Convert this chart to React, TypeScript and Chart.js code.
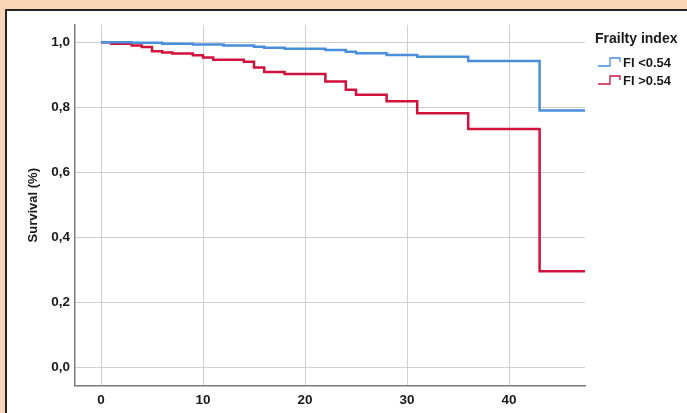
import React, { useEffect, useRef } from "react";
import { Chart, registerables } from "chart.js";

Chart.register(...registerables);

const seriesNames = ["FI <0.54", "FI >0.54"];
const legendTitle = "Frailty index";
const yAxisTitle = "Survival (%)";

const blueTimes = [0, 3, 6, 9, 12, 15, 16, 18, 22, 24, 25, 28, 31, 36, 43, 47.5];
const blueSurv = [1.0, 0.998, 0.995, 0.993, 0.99, 0.986, 0.983, 0.98, 0.976, 0.971, 0.966, 0.961, 0.955, 0.942, 0.79, 0.79];

const redTimes = [0, 1, 3, 4, 5, 6, 7, 9, 10, 11, 14, 15, 16, 18, 22, 24, 25, 28, 31, 36, 43, 47.5];
const redSurv = [1.0, 0.995, 0.99, 0.985, 0.972, 0.968, 0.965, 0.96, 0.953, 0.946, 0.94, 0.922, 0.908, 0.902, 0.879, 0.854, 0.838, 0.818, 0.781, 0.733, 0.295, 0.295];

const xTicks = [0, 10, 20, 30, 40];
const yTicks = [0, 0.2, 0.4, 0.6, 0.8, 1.0];

const BLUE = "#4a8fdc";
const RED = "#d0123c";
const FONT = "'Liberation Sans', Arial, sans-serif";

const legendPlugin = {
  id: "kmLegend",
  afterDraw(chart: any) {
    const ctx = chart.ctx;
    const ca = chart.chartArea;
    const x0 = ca.right + 10;
    ctx.save();
    ctx.fillStyle = "#1a1a1a";
    ctx.textBaseline = "middle";
    ctx.textAlign = "left";
    ctx.font = `bold 14px ${FONT}`;
    ctx.fillText(legendTitle, x0, 39);
    const colors = [BLUE, RED];
    seriesNames.forEach((name, i) => {
      const y = 63 + i * 18;
      ctx.strokeStyle = colors[i];
      ctx.lineWidth = 1.3;
      ctx.beginPath();
      ctx.moveTo(x0 + 3, y + 3);
      ctx.lineTo(x0 + 15, y + 3);
      ctx.lineTo(x0 + 15, y - 5);
      ctx.lineTo(x0 + 25, y - 5);
      ctx.lineTo(x0 + 25, y - 1);
      ctx.stroke();
      ctx.fillStyle = "#1a1a1a";
      ctx.font = `bold 13px ${FONT}`;
      ctx.fillText(name, x0 + 28, y);
    });
    ctx.restore();
  },
};

export default function App() {
  const ref = useRef<HTMLCanvasElement | null>(null);
  useEffect(() => {
    if (!ref.current) return;
    const chart = new Chart(ref.current, {
      type: "line",
      data: {
        datasets: [
          {
            label: seriesNames[0],
            data: blueTimes.map((t, i) => ({ x: t, y: blueSurv[i] })),
            borderColor: BLUE,
            borderWidth: 2.5,
            pointRadius: 0,
            stepped: "before",
            fill: false,
          },
          {
            label: seriesNames[1],
            data: redTimes.map((t, i) => ({ x: t, y: redSurv[i] })),
            borderColor: RED,
            borderWidth: 2.5,
            pointRadius: 0,
            stepped: "before",
            fill: false,
          },
        ],
      },
      options: {
        animation: false,
        responsive: false,
        maintainAspectRatio: false,
        layout: { padding: { left: 0, top: 25, right: 102, bottom: 0 } },
        plugins: { legend: { display: false }, tooltip: { enabled: false } },
        scales: {
          x: {
            type: "linear",
            min: -2.55,
            max: 47.45,
            afterBuildTicks: (s: any) => {
              s.ticks = xTicks.map((v) => ({ value: v }));
            },
            afterFit: (s: any) => {
              s.height = 27.5;
            },
            grid: { color: "#cfcfcf", lineWidth: 1, drawTicks: false },
            border: { color: "#7a7a7a", width: 1.5 },
            ticks: {
              padding: 7,
              color: "#1a1a1a",
              font: { family: FONT, size: 13.5, weight: "bold" },
              maxRotation: 0,
            },
          },
          y: {
            type: "linear",
            min: -0.0566,
            max: 1.053,
            afterBuildTicks: (s: any) => {
              s.ticks = yTicks.map((v) => ({ value: v }));
            },
            afterFit: (s: any) => {
              s.width = 75;
            },
            grid: { color: "#cfcfcf", lineWidth: 1, drawTicks: false },
            border: { color: "#7a7a7a", width: 1.5 },
            ticks: {
              padding: 5,
              color: "#1a1a1a",
              font: { family: FONT, size: 13.5, weight: "bold" },
              callback: (v: any) => Number(v).toFixed(1).replace(".", ","),
            },
            title: {
              display: true,
              text: yAxisTitle,
              color: "#1a1a1a",
              font: { family: FONT, size: 13, weight: "bold" },
              padding: { top: 26, bottom: 0 },
            },
          },
        },
      },
      plugins: [legendPlugin],
    } as any);
    return () => chart.destroy();
  }, []);

  return (
    <div style={{ position: "fixed", left: 0, top: 0, width: 687, height: 413, background: "#fad6b7", overflow: "hidden" }}>
      <div
        style={{
          position: "absolute",
          left: 5,
          top: 9,
          width: 700,
          height: 420,
          background: "#ffffff",
          border: "2px solid #222",
          boxSizing: "border-box",
        }}
      />
      <canvas ref={ref} width={687} height={413} style={{ position: "absolute", left: 0, top: 0, width: 687, height: 413 }} />
    </div>
  );
}
